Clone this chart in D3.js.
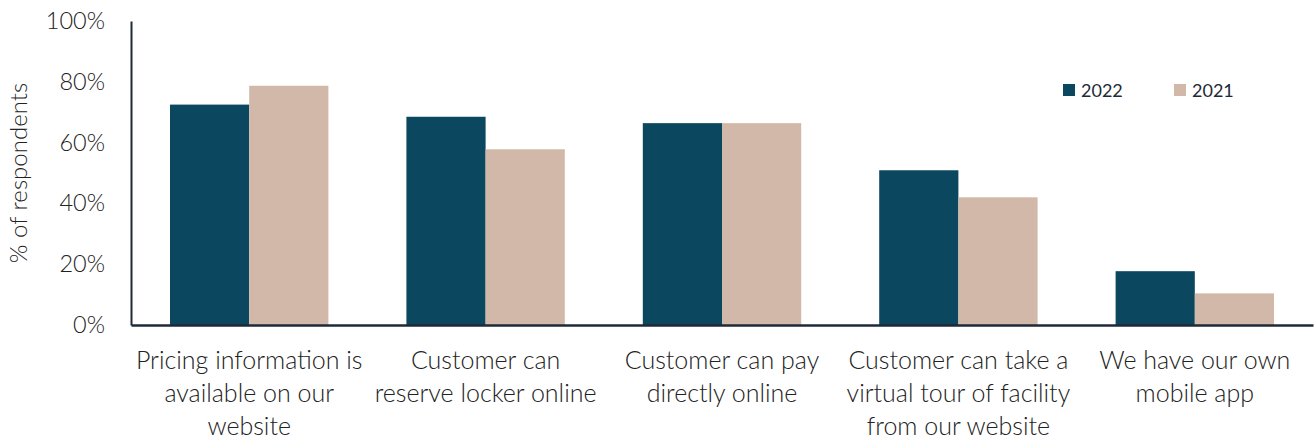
<!DOCTYPE html>
<html>
<head>
<meta charset="utf-8">
<script src="https://cdn.jsdelivr.net/npm/d3@7"></script>
<style>
  html, body { margin: 0; padding: 0; background: #fff; }
  svg { display: block; font-family: "Lato", "Open Sans", sans-serif; font-weight: 300; }
</style>
</head>
<body>
<svg id="chart" width="1316" height="439"></svg>
<script>
// Website / online capabilities, share of respondents by year
const categories = [
  ["Pricing information is", "available on our", "website"],
  ["Customer can", "reserve locker online"],
  ["Customer can pay", "directly online"],
  ["Customer can take a", "virtual tour of facility", "from our website"],
  ["We have our own", "mobile app"]
];
const series = ["2022", "2021"];
const values2022 = [72.5, 68.5, 66.4, 50.9, 17.7];
const values2021 = [78.7, 57.8, 66.4, 42.0, 10.4];
const yTicks = [0, 20, 40, 60, 80, 100];
const colors = ["#0b475e", "#d2b8a8"];

const svg = d3.select("#chart");
const margin = { left: 131, right: 3, top: 21, bottom: 114 };
const W = 1316, H = 439;

const x = d3.scaleBand()
  .domain(d3.range(categories.length))
  .range([margin.left, W - margin.right])
  .paddingInner(0.33)
  .paddingOuter(0.165);

const xSub = d3.scaleBand().domain(series).range([0, x.bandwidth()]);

const y = d3.scaleLinear().domain([0, 100]).range([H - margin.bottom, margin.top]);

const rows = categories.map((c, i) => ({ i, vals: [values2022[i], values2021[i]] }));

// bars
const g = svg.append("g");
rows.forEach(r => {
  series.forEach((s, k) => {
    g.append("rect")
      .attr("x", x(r.i) + xSub(s))
      .attr("y", y(r.vals[k]))
      .attr("width", xSub.bandwidth())
      .attr("height", y(0) - y(r.vals[k]))
      .attr("fill", colors[k]);
  });
});

// y axis
const yAxis = d3.axisLeft(y).tickValues(yTicks).tickSize(0).tickPadding(26)
  .tickFormat(d => d + "%");
const ya = svg.append("g").attr("transform", `translate(${margin.left},0)`).call(yAxis);
ya.select(".domain").attr("stroke", "#1e2a38").attr("stroke-width", 2);
ya.selectAll("text").attr("font-size", 23.5).attr("fill", "#222")
  .attr("font-family", "Lato, sans-serif").attr("font-weight", 300);

// x axis baseline
const xa = svg.append("g").attr("transform", `translate(0,${y(0)})`)
  .call(d3.axisBottom(x).tickSize(0).tickFormat(""));
xa.select(".domain").attr("stroke", "#1e2a38").attr("stroke-width", 2.5);

// category labels (multi-line)
categories.forEach((lines, i) => {
  const t = svg.append("text")
    .attr("x", x(i) + x.bandwidth() / 2)
    .attr("y", 369)
    .attr("text-anchor", "middle")
    .attr("font-size", 25)
    .attr("fill", "#222");
  lines.forEach((ln, j) => {
    t.append("tspan").attr("x", x(i) + x.bandwidth() / 2).attr("dy", j === 0 ? 0 : 33).text(ln);
  });
});

// y axis title
svg.append("text")
  .attr("transform", `translate(27,${(y(0) + y(100)) / 2}) rotate(-90)`)
  .attr("text-anchor", "middle")
  .attr("font-size", 24)
  .attr("fill", "#222")
  .text("% of respondents");

// legend
const legend = svg.append("g");
const legendX = [1063, 1174];
series.forEach((s, k) => {
  legend.append("rect").attr("x", legendX[k]).attr("y", 84).attr("width", 12).attr("height", 12)
    .attr("fill", colors[k]);
  legend.append("text").attr("x", legendX[k] + 18).attr("y", 96.5)
    .attr("font-size", 18).attr("font-weight", 400).attr("fill", "#1e2a38").text(s);
});
</script>
</body>
</html>
